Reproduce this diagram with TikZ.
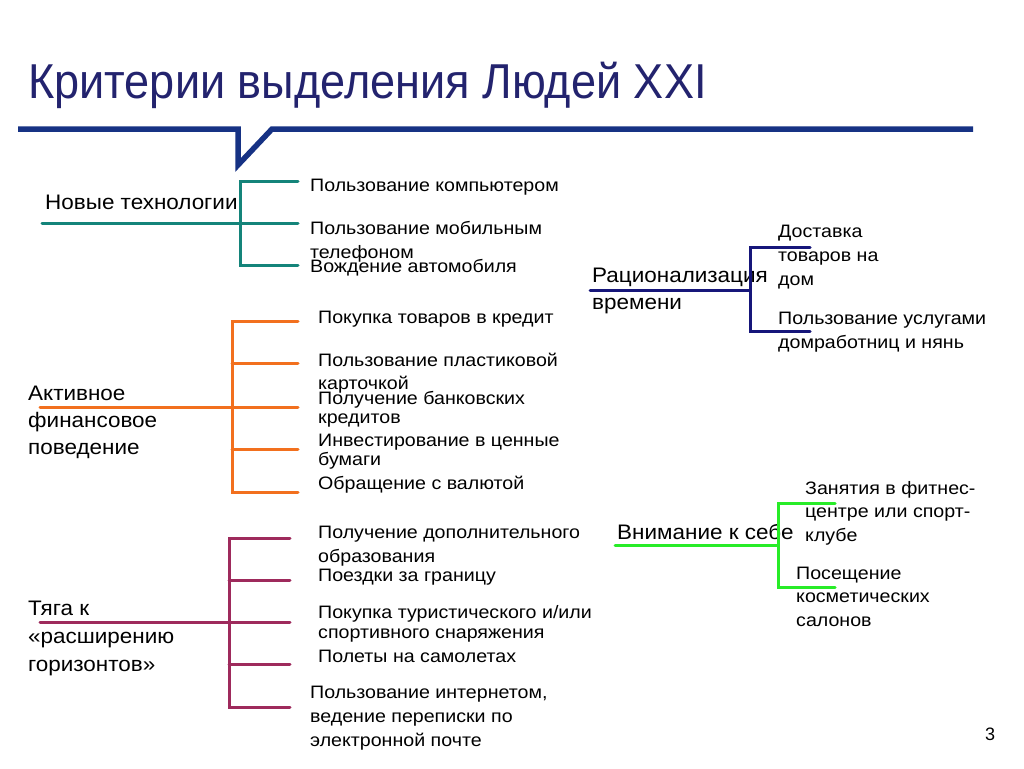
\documentclass[tikz,border=0pt]{standalone}
\usepackage{fontspec}
\setmainfont{Liberation Sans}
\newfontfamily\itemfont[FakeStretch=1.09]{Liberation Sans}
\newfontfamily\lblfont[FakeStretch=1.07]{Liberation Sans}
\newfontfamily\titlefont[FakeStretch=0.92]{Liberation Sans}
\usepackage{xcolor}
\usetikzlibrary{positioning}

\definecolor{titleblue}{RGB}{35,35,110}
\definecolor{barblue}{RGB}{22,50,132}
\definecolor{techteal}{RGB}{20,132,122}
\definecolor{finorange}{RGB}{242,112,30}
\definecolor{horplum}{RGB}{158,42,92}
\definecolor{ratnavy}{RGB}{22,22,122}
\definecolor{selfgreen}{RGB}{40,236,40}

\begin{document}
\begin{tikzpicture}[x=1pt, y=-1pt,
    item/.style={anchor=base west, inner sep=0pt, align=left, font=\itemfont\fontsize{18}{24}\selectfont},
    lbl/.style={anchor=base west, inner sep=0pt, align=left, font=\lblfont\fontsize{21}{27}\selectfont},
    branch/.style={line width=3pt, line cap=round}]
  \useasboundingbox[fill=white] (0,0) rectangle (1024,768);

  % title and bar
  \node[anchor=base west, inner sep=0pt, text=titleblue, font=\titlefont\fontsize{49}{55}\selectfont] (title) at (28,98) {Критерии выделения Людей XXI};
  \draw[barblue, line width=5.5pt, line join=miter] (18,129) -- (238,129) -- (238,165) -- (272,129) -- (973,129);

  % Новые технологии
  \node[lbl] (nt) at (45,209) {Новые технологии};
  \coordinate (nt-root) at (42,223);
  \coordinate (nt-fork) at (240,223);
  \foreach \n/\y in {1/181,2/223,3/265} \coordinate (nt-\n) at (298,\y);
  \draw[branch, techteal] (nt-root) -- (nt-fork) -- (nt-2);
  \draw[branch, techteal] (nt-1) -| (nt-fork) |- (nt-3);
  \node[item] (nt-a) at (310,191) {Пользование компьютером};
  \node[item] (nt-b) at (310,258) {Пользование мобильным\\телефоном};
  \node[item] (nt-c) at (310,272) {Вождение автомобиля};

  % Активное финансовое поведение
  \node[lbl] (fin) at (28,454) {Активное\\финансовое\\поведение};
  \coordinate (fin-root) at (40,407);
  \coordinate (fin-fork) at (232,407);
  \foreach \n/\y in {1/321,2/363,3/407,4/449,5/492} \coordinate (fin-\n) at (298,\y);
  \draw[branch, finorange] (fin-root) -- (fin-fork) -- (fin-3);
  \draw[branch, finorange] (fin-1) -| (fin-fork) |- (fin-5);
  \foreach \n in {2,4} \draw[branch, finorange] (fin-\n -| fin-fork) -- (fin-\n);
  \node[item] (fin-a) at (318,323) {Покупка товаров в кредит};
  \node[item, font=\itemfont\fontsize{18}{23}\selectfont] (fin-b) at (318,389) {Пользование пластиковой\\карточкой};
  \node[item, font=\itemfont\fontsize{18}{19}\selectfont] (fin-c) at (318,423) {Получение банковских\\кредитов};
  \node[item, font=\itemfont\fontsize{18}{19}\selectfont] (fin-d) at (318,465) {Инвестирование в ценные\\бумаги};
  \node[item] (fin-e) at (318,489) {Обращение с валютой};

  % Тяга к «расширению горизонтов»
  \node[lbl, font=\lblfont\fontsize{21}{28}\selectfont] (hor) at (28,671) {Тяга к\\«расширению\\горизонтов»};
  \coordinate (hor-root) at (40,622);
  \coordinate (hor-fork) at (229,622);
  \foreach \n/\y in {1/538,2/580,3/622,4/664,5/707} \coordinate (hor-\n) at (290,\y);
  \draw[branch, horplum] (hor-root) -- (hor-fork) -- (hor-3);
  \draw[branch, horplum] (hor-1) -| (hor-fork) |- (hor-5);
  \foreach \n in {2,4} \draw[branch, horplum] (hor-\n -| hor-fork) -- (hor-\n);
  \node[item] (hor-a) at (318,562) {Получение дополнительного\\образования};
  \node[item] (hor-b) at (318,581) {Поездки за границу};
  \node[item, font=\itemfont\fontsize{18}{20}\selectfont] (hor-c) at (318,638) {Покупка туристического и/или\\спортивного снаряжения};
  \node[item] (hor-d) at (318,662) {Полеты на самолетах};
  \node[item] (hor-e) at (310,746) {Пользование интернетом,\\ведение переписки по\\электронной почте};

  % Рационализация времени
  \node[lbl] (rat) at (592,309) {Рационализация\\времени};
  \coordinate (rat-root) at (590,290);
  \coordinate (rat-fork) at (750,290);
  \foreach \n/\y in {1/247,2/331} \coordinate (rat-\n) at (810,\y);
  \draw[branch, ratnavy] (rat-root) -- (rat-fork);
  \draw[branch, ratnavy] (rat-1) -| (rat-fork) |- (rat-2);
  \node[item] (rat-a) at (778,285) {Доставка\\товаров на\\дом};
  \node[item] (rat-b) at (778,348) {Пользование услугами\\домработниц и нянь};

  % Внимание к себе
  \node[lbl] (self) at (617,539) {Внимание к себе};
  \coordinate (self-root) at (615,545);
  \coordinate (self-fork) at (778,545);
  \foreach \n/\y in {1/503,2/587} \coordinate (self-\n) at (835,\y);
  \draw[branch, selfgreen] (self-root) -- (self-fork);
  \draw[branch, selfgreen] (self-1) -| (self-fork) |- (self-2);
  \node[item, font=\itemfont\fontsize{18}{23.5}\selectfont] (self-a) at (805,541) {Занятия в фитнес-\\центре или спорт-\\клубе};
  \node[item, font=\itemfont\fontsize{18}{23.5}\selectfont] (self-b) at (796,626) {Посещение\\косметических\\салонов};

  \node[anchor=base west, inner sep=0pt, font=\fontsize{18}{20}\selectfont] (page) at (985,740) {3};
\end{tikzpicture}
\end{document}
